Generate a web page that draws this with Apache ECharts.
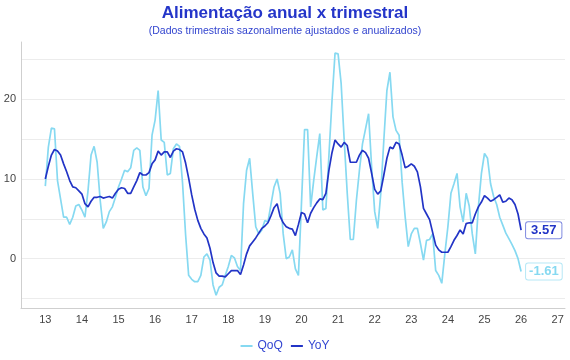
<!DOCTYPE html>
<html><head><meta charset="utf-8">
<script src="https://cdn.jsdelivr.net/npm/echarts@6/dist/echarts.min.js"></script>
<style>html,body{margin:0;padding:0;background:#fff}#c{width:570px;height:360px}</style>
</head><body><div id="c"></div>
<script>
// Monthly observations starting January 2013 (x axis = two-digit year)
const firstYear = 13;
const qoq = [
  9.1, 14.0, 16.4, 16.3, 9.8, 7.5, 5.2, 5.2, 4.3, 5.2,
  6.6, 6.8, 6.1, 5.2, 8.5, 13.0, 14.1, 12.1, 7.3, 3.8,
  4.6, 5.9, 6.5, 7.7, 9.0, 10.0, 11.1, 10.9, 11.4, 13.6,
  13.9, 13.6, 9.0, 7.9, 8.8, 15.5, 17.4, 21.1, 14.9, 14.6,
  10.5, 10.7, 13.8, 14.4, 14.1, 9.5, 3.0, -2.1, -2.6, -2.9,
  -2.9, -2.1, 0.2, 0.6, -0.2, -3.3, -4.6, -3.6, -3.3, -2.1,
  -1.0, 0.4, 0.1, -1.0, -1.5, 6.9, 11.1, 12.6, 8.2, 4.0,
  3.1, 3.6, 4.8, 4.6, 6.8, 9.0, 10.0, 8.2, 3.1, 0.0,
  0.2, 1.1, -1.3, -2.1, 7.0, 16.2, 16.2, 6.5, 9.8, 12.8,
  15.7, 6.1, 6.3, 13.0, 19.8, 25.8, 25.7, 22.0, 14.9, 8.2,
  2.4, 2.4, 7.3, 11.1, 14.4, 16.3, 18.2, 11.5, 5.9, 3.8,
  8.2, 14.9, 21.1, 23.4, 17.8, 16.1, 15.5, 9.6, 5.2, 1.5,
  3.1, 3.8, 3.8, 1.9, -0.2, 2.3, 2.4, 3.1, -1.5, -2.1,
  -3.1, 0.6, 4.0, 8.2, 9.4, 10.7, 6.5, 4.6, 8.2, 6.6,
  3.1, 0.6, 6.5, 10.7, 13.2, 12.6, 9.4, 7.8, 6.8, 5.2,
  4.2, 3.2, 2.5, 1.8, 1.0, 0.0, -1.61
];
const yoy = [
  10.0, 11.6, 13.0, 13.7, 13.5, 13.0, 11.9, 10.9, 9.8, 9.0,
  8.9, 8.5, 8.1, 6.9, 6.5, 7.2, 7.7, 7.7, 7.8, 7.6,
  7.7, 7.8, 7.6, 8.2, 8.7, 8.9, 8.8, 8.2, 8.2, 9.0,
  9.8, 10.8, 10.5, 10.5, 10.8, 11.9, 12.4, 13.5, 13.0, 13.4,
  13.4, 12.7, 13.5, 13.8, 13.7, 13.4, 12.0, 10.1, 8.0, 6.2,
  4.8, 3.8, 3.1, 2.6, 1.3, -0.5, -1.8, -2.2, -2.2, -2.3,
  -1.9, -1.5, -1.5, -1.5, -2.0, -0.8, 0.6, 1.6, 2.1, 2.6,
  3.2, 3.8, 4.1, 4.5, 5.4, 6.4, 6.9, 5.3, 4.5, 4.0,
  3.8, 3.7, 2.9, 4.3, 5.8, 5.6, 4.5, 5.7, 6.4, 7.0,
  7.5, 7.4, 8.2, 11.1, 13.3, 14.9, 14.4, 14.0, 14.6, 14.2,
  12.1, 12.1, 12.1, 13.0, 13.6, 13.3, 12.6, 10.7, 8.7, 8.1,
  8.5, 10.5, 12.6, 14.0, 13.8, 14.6, 14.4, 13.0, 11.4, 11.6,
  11.9, 11.6, 10.9, 9.0, 6.3, 5.6, 4.9, 3.3, 1.7, 1.1,
  0.8, 0.8, 0.8, 1.5, 2.3, 2.9, 3.6, 3.1, 4.4, 4.5,
  4.5, 5.6, 6.5, 7.1, 7.9, 7.6, 7.2, 7.4, 7.7, 8.0,
  7.1, 7.2, 7.6, 7.4, 6.8, 5.6, 3.57
];
const xTicks = [13,14,15,16,17,18,19,20,21,22,23,24,25,26,27];
const yLabelValues = [0, 10, 20];

const QOQ_COLOR = '#86d9f1';
const YOY_COLOR = '#2234c6';
const toPoints = arr => arr.map((v, i) => [firstYear + i / 12, v]);
const isInt = v => Math.abs(v - Math.round(v)) < 1e-6;

const chart = echarts.init(document.getElementById('c'), null, {renderer: 'canvas'});
chart.setOption({
  animation: false,
  backgroundColor: '#fff',
  textStyle: {fontFamily: 'Liberation Sans, Arial, sans-serif'},
  title: {
    text: 'Alimentação anual x trimestral',
    subtext: '(Dados trimestrais sazonalmente ajustados e anualizados)',
    left: 'center', top: 0, itemGap: 4,
    textStyle: {fontSize: 17, fontWeight: 'bold', color: '#2435c9', fontFamily: 'Liberation Sans, Arial, sans-serif'},
    subtextStyle: {fontSize: 10.5, color: '#3244cf', fontFamily: 'Liberation Sans, Arial, sans-serif'}
  },
  legend: {
    bottom: 3, left: 'center', icon: 'rect', itemWidth: 12, itemHeight: 2, itemGap: 8,
    textStyle: {color: '#3447d2', fontSize: 12},
    data: ['QoQ', 'YoY']
  },
  grid: {left: 21, right: 5, top: 42, bottom: 52, containLabel: false},
  xAxis: {
    type: 'value', min: 12.336, max: 27.2, splitNumber: 15,
    axisLine: {show: true, onZero: false, lineStyle: {color: '#cfcfcf'}},
    axisTick: {show: false},
    splitLine: {show: false},
    axisLabel: {
      customValues: xTicks,
      formatter: v => (isInt(v) ? String(Math.round(v)) : ''),
      color: '#444', fontSize: 11, margin: 6
    }
  },
  yAxis: {
    type: 'value', min: -6.2, max: 27.2, splitNumber: 5,
    axisLine: {show: true, onZero: false, lineStyle: {color: '#cfcfcf'}},
    axisTick: {show: false},
    splitLine: {show: true, showMinLine: false, showMaxLine: false, lineStyle: {color: '#ececec'}},
    axisLabel: {
      showMinLabel: false, showMaxLabel: false,
      formatter: v => (yLabelValues.some(t => Math.abs(t - v) < 1e-6) ? String(Math.round(v)) : ''),
      color: '#444', fontSize: 11, margin: 5
    }
  },
  series: [
    {
      name: 'QoQ', type: 'line', data: toPoints(qoq), showSymbol: false, symbol: 'none',
      lineStyle: {color: QOQ_COLOR, width: 1.7}, itemStyle: {color: QOQ_COLOR},
      endLabel: {
        show: true, distance: 5,
        formatter: p => p.value[1].toFixed(2),
        color: QOQ_COLOR, fontWeight: 'bold', fontSize: 13,
        backgroundColor: '#fff', borderColor: '#b6e8f6', borderWidth: 1,
        borderRadius: 2, padding: [2, 3, 1, 3]
      },
      z: 2
    },
    {
      name: 'YoY', type: 'line', data: toPoints(yoy), showSymbol: false, symbol: 'none',
      lineStyle: {color: YOY_COLOR, width: 1.7}, itemStyle: {color: YOY_COLOR},
      endLabel: {
        show: true, distance: 5,
        formatter: p => p.value[1].toFixed(2),
        color: YOY_COLOR, fontWeight: 'bold', fontSize: 13,
        backgroundColor: '#fff', borderColor: '#7f8ae0', borderWidth: 1,
        borderRadius: 2, padding: [2, 5, 1, 5]
      },
      z: 3
    }
  ]
});
</script>
</body></html>
